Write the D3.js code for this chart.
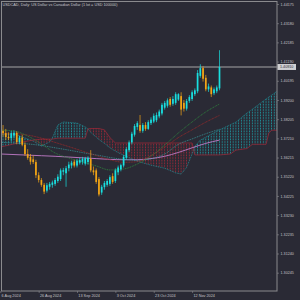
<!DOCTYPE html>
<html>
<head>
<meta charset="utf-8">
<script src="https://cdnjs.cloudflare.com/ajax/libs/d3/7.8.5/d3.min.js"></script>
<style>
  html, body { margin: 0; padding: 0; background: #2a2a35; }
  svg { display: block; }
</style>
</head>
<body>
<svg id="chart"></svg>
<script>
// USDCAD daily candles, bar 0 = 6 Aug 2024 ... bar 80 = 26 Nov 2024
const opens = [
  1.3810, 1.3760, 1.3748, 1.3728, 1.3722, 1.3735, 1.3750, 1.3702, 1.3725, 1.3688,
  1.3640, 1.3625, 1.3612, 1.3598, 1.3530, 1.3505, 1.3480, 1.3450, 1.3470, 1.3480,
  1.3485, 1.3500, 1.3510, 1.3548, 1.3540, 1.3566, 1.3580, 1.3600, 1.3580, 1.3595,
  1.3600, 1.3590, 1.3598, 1.3615, 1.3555, 1.3555, 1.3510, 1.3440, 1.3468, 1.3480,
  1.3485, 1.3525, 1.3500, 1.3545, 1.3560, 1.3580, 1.3620, 1.3660, 1.3700, 1.3740,
  1.3780, 1.3790, 1.3760, 1.3790, 1.3770, 1.3800, 1.3808, 1.3815, 1.3835, 1.3850,
  1.3880, 1.3890, 1.3925, 1.3900, 1.3905, 1.3922, 1.3940, 1.3905, 1.3875, 1.3915,
  1.3925, 1.3950, 1.3965, 1.4045, 1.4085, 1.4035, 1.3975, 1.3985, 1.3955, 1.3965,
  1.3980
];
const highs = [
  1.3830, 1.3790, 1.3770, 1.3752, 1.3760, 1.3762, 1.3758, 1.3735, 1.3740, 1.3700,
  1.3665, 1.3640, 1.3632, 1.3610, 1.3545, 1.3515, 1.3490, 1.3490, 1.3495, 1.3502,
  1.3515, 1.3535, 1.3565, 1.3568, 1.3578, 1.3600, 1.3605, 1.3610, 1.3615, 1.3620,
  1.3625, 1.3625, 1.3628, 1.3660, 1.3575, 1.3565, 1.3520, 1.3480, 1.3500, 1.3510,
  1.3530, 1.3540, 1.3565, 1.3580, 1.3590, 1.3635, 1.3675, 1.3710, 1.3755, 1.3795,
  1.3810, 1.3842, 1.3800, 1.3805, 1.3815, 1.3830, 1.3850, 1.3855, 1.3870, 1.3905,
  1.3915, 1.3928, 1.3935, 1.3940, 1.3960, 1.3955, 1.3960, 1.3920, 1.3925, 1.3945,
  1.3970, 1.3980, 1.4075, 1.4105, 1.4095, 1.4050, 1.4005, 1.3995, 1.3985, 1.3995,
  1.4178
];
const lows = [
  1.3740, 1.3730, 1.3712, 1.3712, 1.3705, 1.3722, 1.3690, 1.3690, 1.3680, 1.3630,
  1.3610, 1.3585, 1.3588, 1.3515, 1.3492, 1.3470, 1.3432, 1.3440, 1.3455, 1.3465,
  1.3475, 1.3490, 1.3500, 1.3530, 1.3470, 1.3550, 1.3565, 1.3570, 1.3570, 1.3585,
  1.3585, 1.3580, 1.3585, 1.3545, 1.3530, 1.3485, 1.3420, 1.3428, 1.3455, 1.3470,
  1.3475, 1.3485, 1.3490, 1.3530, 1.3550, 1.3570, 1.3610, 1.3650, 1.3690, 1.3730,
  1.3765, 1.3750, 1.3750, 1.3760, 1.3765, 1.3790, 1.3800, 1.3805, 1.3825, 1.3840,
  1.3870, 1.3880, 1.3885, 1.3890, 1.3895, 1.3915, 1.3840, 1.3860, 1.3865, 1.3905,
  1.3915, 1.3940, 1.3955, 1.4035, 1.4015, 1.3965, 1.3962, 1.3935, 1.3945, 1.3955,
  1.3970
];
const closes = [
  1.3760, 1.3748, 1.3728, 1.3722, 1.3748, 1.3750, 1.3702, 1.3725, 1.3688, 1.3640,
  1.3620, 1.3600, 1.3598, 1.3530, 1.3505, 1.3480, 1.3445, 1.3478, 1.3485, 1.3492,
  1.3505, 1.3522, 1.3555, 1.3556, 1.3566, 1.3585, 1.3595, 1.3580, 1.3605, 1.3608,
  1.3615, 1.3618, 1.3620, 1.3555, 1.3545, 1.3495, 1.3430, 1.3470, 1.3490, 1.3500,
  1.3520, 1.3495, 1.3555, 1.3570, 1.3582, 1.3625, 1.3665, 1.3700, 1.3745, 1.3785,
  1.3800, 1.3760, 1.3790, 1.3770, 1.3805, 1.3818, 1.3838, 1.3842, 1.3860, 1.3895,
  1.3905, 1.3918, 1.3895, 1.3925, 1.3950, 1.3950, 1.3870, 1.3875, 1.3915, 1.3935,
  1.3960, 1.3970, 1.4060, 1.4085, 1.4030, 1.3975, 1.3990, 1.3950, 1.3975, 1.3985,
  1.4091
];

// moving averages, read at every 5th bar
const maBars  = [0, 5, 10, 15, 20, 25, 30, 35, 40, 45, 50, 55, 60, 65, 70, 75, 80];
const maGreen = [1.3764, 1.3759, 1.3733, 1.3692, 1.3645, 1.3619, 1.3598, 1.3578, 1.3557,
                 1.3562, 1.3588, 1.3629, 1.3686, 1.3749, 1.3806, 1.3858, 1.3899];
const maRed   = [1.3745, 1.3745, 1.3738, 1.3722, 1.3700, 1.3678, 1.3655, 1.3632, 1.3610,
                 1.3597, 1.3600, 1.3632, 1.3675, 1.3725, 1.3765, 1.3805, 1.3840];
const maTeal  = [1.3700, 1.3697, 1.3692, 1.3684, 1.3672, 1.3660, 1.3647, 1.3635, 1.3622,
                 1.3612, 1.3608, 1.3615, 1.3640, 1.3690, 1.3718, 1.3745, 1.3768];
const maPink  = [1.3640, 1.3637, 1.3634, 1.3631, 1.3628, 1.3624, 1.3620, 1.3616, 1.3612,
                 1.3610, 1.3610, 1.3616, 1.3628, 1.3648, 1.3672, 1.3695, 1.3712];

// ichimoku cloud (senkou span A / B), shifted 26 bars ahead
const cloudBars = [0, 5, 10, 12, 15, 18, 19, 21, 23, 28, 31, 32, 33, 36, 38, 40, 42, 44, 50, 55,
                   60, 64, 66, 68, 70, 71, 73, 76, 80, 84, 86, 90, 92, 95, 97, 98, 99, 101, 103];
const spanA = [1.3743, 1.3743, 1.3718, 1.3707, 1.3681, 1.3702, 1.3723, 1.3790, 1.3806, 1.3800,
               1.3780, 1.3770, 1.3752, 1.3715, 1.3695, 1.3672, 1.3655, 1.3640, 1.3602, 1.3582,
               1.3566, 1.3542, 1.3536, 1.3570, 1.3640, 1.3680, 1.3712, 1.3735, 1.3765, 1.3792,
               1.3805, 1.3852, 1.3872, 1.3904, 1.3925, 1.3935, 1.3945, 1.3965, 1.3975];
const spanB = [1.3676, 1.3692, 1.3707, 1.3712, 1.3717, 1.3717, 1.3717, 1.3722, 1.3722, 1.3722,
               1.3722, 1.3770, 1.3772, 1.3772, 1.3765, 1.3725, 1.3697, 1.3697, 1.3697, 1.3697,
               1.3697, 1.3697, 1.3697, 1.3697, 1.3697, 1.3635, 1.3635, 1.3635, 1.3635, 1.3640,
               1.3660, 1.3668, 1.3690, 1.3690, 1.3690, 1.3748, 1.3763, 1.3763, 1.3763];

const priceTicks = [1.44175, 1.43180, 1.42185, 1.41190, 1.40195, 1.39200, 1.38205, 1.37210,
                    1.36215, 1.35220, 1.34225, 1.33230, 1.32235, 1.31240, 1.30245];
const dateTickBars = [0, 14, 28, 42, 56, 70];
const dateTickLabels = ["6 Aug 2024", "26 Aug 2024", "13 Sep 2024", "3 Oct 2024", "23 Oct 2024", "12 Nov 2024"];

const title = "USDCAD, Daily:  US Dollar vs Canadian Dollar  (1 lot = USD 100000)";

const dims = { width: 300, height: 300, left: 1, right: 277, top: 1, bottom: 291 };
const colors = {
  bg: "#2a2a35", frame: "#8a8a8e", text: "#c4c4c8",
  bull: "#19e0e0", bear: "#f2a516",
  cloudUp: "#1d9ea6", cloudDown: "#a42838",
  green: "#2f8f3f", red: "#a02828", teal: "#3aa6a8", pink: "#c27ac8"
};
const font = "'Liberation Sans', Arial, sans-serif";

const svg = d3.select("#chart")
    .attr("width", dims.width)
    .attr("height", dims.height)
    .style("background", colors.bg);

const x = d3.scaleLinear().domain([0, 80]).range([0.3, 219.5]);
const y = d3.scaleLinear().domain([1.30245, 1.44175]).range([272.7, 4]);
const step = x(1) - x(0);

const defs = svg.append("defs");
defs.append("clipPath").attr("id", "plotClip")
  .append("rect")
    .attr("x", dims.left).attr("y", dims.top)
    .attr("width", dims.right - dims.left).attr("height", dims.bottom - dims.top);

// dotted vertical hatch, one column per bar
function hatch(id, color) {
  const p = defs.append("pattern")
      .attr("id", id)
      .attr("patternUnits", "userSpaceOnUse")
      .attr("x", x(0) - 0.5).attr("y", 0)
      .attr("width", step).attr("height", 1.6);
  p.append("rect").attr("width", 0.9).attr("height", 0.9).attr("fill", color);
}
hatch("hatchUp", colors.cloudUp);
hatch("hatchDown", colors.cloudDown);

const cloud = cloudBars.map((b, k) => ({ b: b, a: spanA[k], s: spanB[k] }));
const above = key => d3.area().x(d => x(d.b)).y0(0).y1(d => y(d[key]));
const below = key => d3.area().x(d => x(d.b)).y0(dims.height).y1(d => y(d[key]));

defs.append("clipPath").attr("id", "aboveB").append("path").datum(cloud).attr("d", above("s"));
defs.append("clipPath").attr("id", "aboveA").append("path").datum(cloud).attr("d", above("a"));

const plot = svg.append("g").attr("clip-path", "url(#plotClip)");

// cloud: up where span A is over span B, down otherwise
plot.append("path").datum(cloud)
    .attr("d", below("a"))
    .attr("clip-path", "url(#aboveB)")
    .attr("fill", "url(#hatchUp)");
plot.append("path").datum(cloud)
    .attr("d", below("s"))
    .attr("clip-path", "url(#aboveA)")
    .attr("fill", "url(#hatchDown)");

plot.append("path").datum(cloud)
    .attr("d", d3.line().x(d => x(d.b)).y(d => y(d.a)))
    .attr("fill", "none").attr("stroke", colors.cloudUp)
    .attr("stroke-width", 0.7).attr("stroke-dasharray", "1,0.8");
plot.append("path").datum(cloud)
    .attr("d", d3.line().x(d => x(d.b)).y(d => y(d.s)))
    .attr("fill", "none").attr("stroke", colors.cloudDown)
    .attr("stroke-width", 0.7);

// moving averages
const maLine = d3.line().curve(d3.curveMonotoneX).x(d => x(d[0])).y(d => y(d[1]));
[
  [maPink, colors.pink, null, 0.9],
  [maTeal, colors.teal, "1,0.8", 0.7],
  [maRed, colors.red, "1,0.6", 0.8],
  [maGreen, colors.green, "1,0.8", 0.8]
].forEach(([vals, color, dash, w]) => {
  plot.append("path")
      .datum(maBars.map((b, k) => [b, vals[k]]))
      .attr("d", maLine)
      .attr("fill", "none")
      .attr("stroke", color)
      .attr("stroke-width", w)
      .attr("stroke-dasharray", dash);
});

// current price line
const last = closes[closes.length - 1];
plot.append("line")
    .attr("x1", dims.left).attr("x2", dims.right)
    .attr("y1", y(last)).attr("y2", y(last))
    .attr("stroke", "#7c7c80").attr("stroke-width", 1.4);

// candles
const bars = d3.range(opens.length).map(i => ({
  i: i, o: opens[i], h: highs[i], l: lows[i], c: closes[i]
}));
const candle = plot.selectAll("g.candle").data(bars).join("g").attr("class", "candle");
candle.append("line")
    .attr("x1", d => x(d.i)).attr("x2", d => x(d.i))
    .attr("y1", d => y(d.h)).attr("y2", d => y(d.l))
    .attr("stroke", d => d.c >= d.o ? colors.bull : colors.bear)
    .attr("stroke-width", 0.7);
candle.append("rect")
    .attr("x", d => x(d.i) - 0.85)
    .attr("width", 1.7)
    .attr("y", d => y(Math.max(d.o, d.c)))
    .attr("height", d => Math.max(0.6, Math.abs(y(d.o) - y(d.c))))
    .attr("fill", d => d.c >= d.o ? colors.bull : colors.bear);

// frame
svg.append("rect")
    .attr("x", dims.left + 0.5).attr("y", dims.top + 0.5)
    .attr("width", dims.right - dims.left - 0.5)
    .attr("height", dims.bottom - dims.top - 0.5)
    .attr("fill", "none").attr("stroke", colors.frame).attr("stroke-width", 1);

// price axis
const yAxis = svg.append("g")
    .attr("transform", `translate(${dims.right}, 0)`)
    .call(d3.axisRight(y).tickValues(priceTicks).tickFormat(d3.format(".5f"))
      .tickSize(2).tickPadding(1.5).tickSizeOuter(0));
yAxis.select(".domain").remove();
yAxis.selectAll(".tick line").attr("stroke", colors.frame).attr("stroke-width", 0.6);
yAxis.selectAll(".tick text")
    .attr("fill", colors.text).style("font-family", font).style("font-size", "3.7px");

// current price tag
svg.append("rect")
    .attr("x", dims.right + 0.5).attr("y", y(last) - 3)
    .attr("width", 18.5).attr("height", 6)
    .attr("fill", "#cfcfd2");
svg.append("text")
    .attr("x", dims.right + 3).attr("y", y(last))
    .attr("dy", "0.35em")
    .attr("fill", "#2a2a35")
    .style("font-family", font).style("font-size", "3.7px")
    .text(d3.format(".5f")(last));

// date axis
const xAxis = svg.append("g")
    .attr("transform", `translate(0, ${dims.bottom})`)
    .call(d3.axisBottom(x).tickValues(dateTickBars)
      .tickFormat((d, k) => dateTickLabels[k]).tickSize(2).tickSizeOuter(0));
xAxis.select(".domain").remove();
xAxis.selectAll(".tick line").attr("stroke", colors.frame).attr("stroke-width", 0.6);
xAxis.selectAll(".tick text")
    .attr("text-anchor", "start")
    .attr("x", 0.8).attr("y", 3).attr("dy", "0.71em")
    .attr("fill", colors.text).style("font-family", font).style("font-size", "3.8px");

// title
svg.append("text")
    .attr("x", 2.5).attr("y", 5.6)
    .attr("fill", colors.text)
    .style("font-family", font).style("font-size", "3.8px")
    .text(title);
</script>
</body>
</html>
